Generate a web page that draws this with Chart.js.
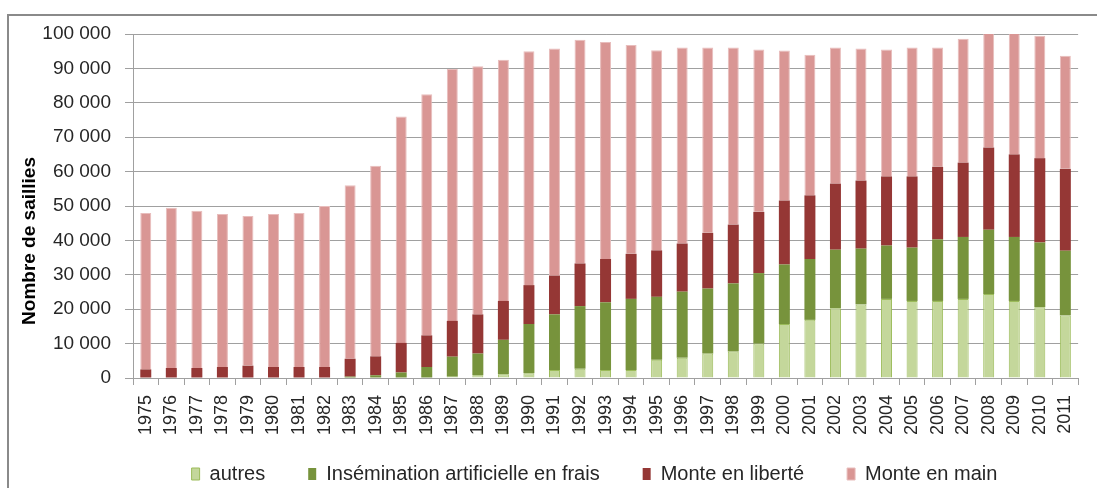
<!DOCTYPE html>
<html>
<head>
<meta charset="utf-8">
<script src="https://cdn.jsdelivr.net/npm/chart.js@4/dist/chart.umd.min.js"></script>
<style>
  html, body { margin: 0; padding: 0; background: #fff; overflow: hidden; }
  #wrap { position: relative; width: 1097px; height: 488px; }
  #frame { position: absolute; left: 7px; top: 14px; width: 2000px; height: 2000px; border: 2px solid #8a8a8a; box-sizing: border-box; }
  canvas { position: absolute; left: 0; top: 0; }
</style>
</head>
<body>
<div id="wrap">
  <div id="frame"></div>
  <canvas id="c" width="1097" height="488"></canvas>
</div>
<script>
const years = ['1975','1976','1977','1978','1979','1980','1981','1982','1983','1984','1985','1986','1987','1988','1989','1990','1991','1992','1993','1994','1995','1996','1997','1998','1999','2000','2001','2002','2003','2004','2005','2006','2007','2008','2009','2010','2011'];

const autres = [0,0,0,0,0,0,0,0,0,0,0,0,400,800,1100,1400,2300,2700,2300,2300,5300,5900,7100,7700,10000,15700,16900,20300,21400,23000,22400,22400,23000,24400,22400,20600,18200];

const inseminationFrais = [0,0,0,0,0,0,0,0,400,800,1600,3200,5800,6300,10000,14300,16200,18200,19700,20700,18300,19200,18900,19800,20500,17300,17700,17000,16200,15500,15500,17900,18000,18700,18600,18800,18800];

const monteLiberte = [2500,2900,2900,3200,3600,3200,3200,3200,5200,5500,8600,9200,10400,11400,11300,11300,11300,12400,12600,13100,13500,14000,16200,17100,17800,18600,18500,19200,19800,20100,20700,21100,21600,23900,24000,24500,23800];

const monteMain = [45500,46600,45700,44500,43500,44500,44800,46800,50400,55400,65800,70100,73200,72100,70100,68000,66000,65000,63100,60700,58200,57000,53900,51500,47200,43600,40900,39600,38400,36900,37500,34700,36000,33600,35300,35600,32900];

const yTicks = [0,10000,20000,30000,40000,50000,60000,70000,80000,90000,100000];

const seriesNames = ['autres', 'Insémination artificielle en frais', 'Monte en liberté', 'Monte en main'];
const yTitle = 'Nombre de saillies';

function fmt(v) {
  return String(v).replace(/\B(?=(\d{3})+(?!\d))/g, ' ');
}

const FONT = "'Liberation Sans', Arial, sans-serif";
const TEXT = '#262626';
const GRID = '#a0a0a0';

const layoutTweaks = {
  id: 'layoutTweaks',
  afterLayout(chart) {
    const l = chart.legend;
    l.left += 48; l.right += 48;
    l.top += 6; l.bottom += 6;
    // let rotated year labels extend below the axis box instead of being clipped
    chart.scales.x.bottom += 40;
  }
};

const yTitlePlugin = {
  id: 'yTitlePlugin',
  afterDraw(chart) {
    const ctx = chart.ctx;
    ctx.save();
    ctx.translate(30, chart.height / 2 - 3);
    ctx.rotate(-Math.PI / 2);
    ctx.font = "bold 19px " + FONT;
    ctx.fillStyle = '#000';
    ctx.textAlign = 'center';
    ctx.textBaseline = 'middle';
    ctx.fillText(yTitle, 0, 0);
    ctx.restore();
  }
};

const common = { barPercentage: 0.43, categoryPercentage: 1.0, clip: 0 };

new Chart(document.getElementById('c'), {
  type: 'bar',
  data: {
    labels: years,
    datasets: [
      Object.assign({ label: seriesNames[0], data: autres, backgroundColor: '#c4d79b', borderColor: '#9bbb59', borderWidth: 1 }, common),
      Object.assign({ label: seriesNames[1], data: inseminationFrais, backgroundColor: '#77933c', borderColor: '#77933c', borderWidth: 0 }, common),
      Object.assign({ label: seriesNames[2], data: monteLiberte, backgroundColor: '#953735', borderColor: '#953735', borderWidth: 0 }, common),
      Object.assign({ label: seriesNames[3], data: monteMain, backgroundColor: '#d99694', borderColor: '#e8bdbc', borderWidth: 1 }, common)
    ]
  },
  options: {
    responsive: false,
    animation: false,
    layout: { padding: { top: 34, right: 4, left: 0, bottom: 0 } },
    plugins: {
      tooltip: { enabled: false },
      title: { display: false },
      legend: {
        position: 'bottom',
        labels: {
          boxWidth: 8,
          boxHeight: 12,
          padding: 43,
          color: TEXT,
          font: { family: FONT, size: 20 }
        }
      }
    },
    scales: {
      x: {
        stacked: true,
        grid: { drawOnChartArea: false, drawTicks: true, tickLength: 7, color: GRID, offset: true },
        border: { display: true, color: GRID, width: 1 },
        ticks: {
          autoSkip: false, maxRotation: 90, minRotation: 90, padding: 10,
          color: TEXT, font: { family: FONT, size: 18 }
        },
        afterFit(scale) { scale.height = 37; }
      },
      y: {
        stacked: true,
        min: 0, max: 100000,
        afterBuildTicks(scale) { scale.ticks = yTicks.map(v => ({ value: v })); },
        grid: { color: GRID, tickLength: 8, drawTicks: true },
        border: { display: true, color: GRID, width: 1 },
        ticks: {
          padding: 14, color: TEXT, font: { family: FONT, size: 19 },
          callback: (v) => fmt(v)
        },
        afterFit(scale) { scale.width = 133; }
      }
    }
  },
  plugins: [layoutTweaks, yTitlePlugin]
});
</script>
</body>
</html>
